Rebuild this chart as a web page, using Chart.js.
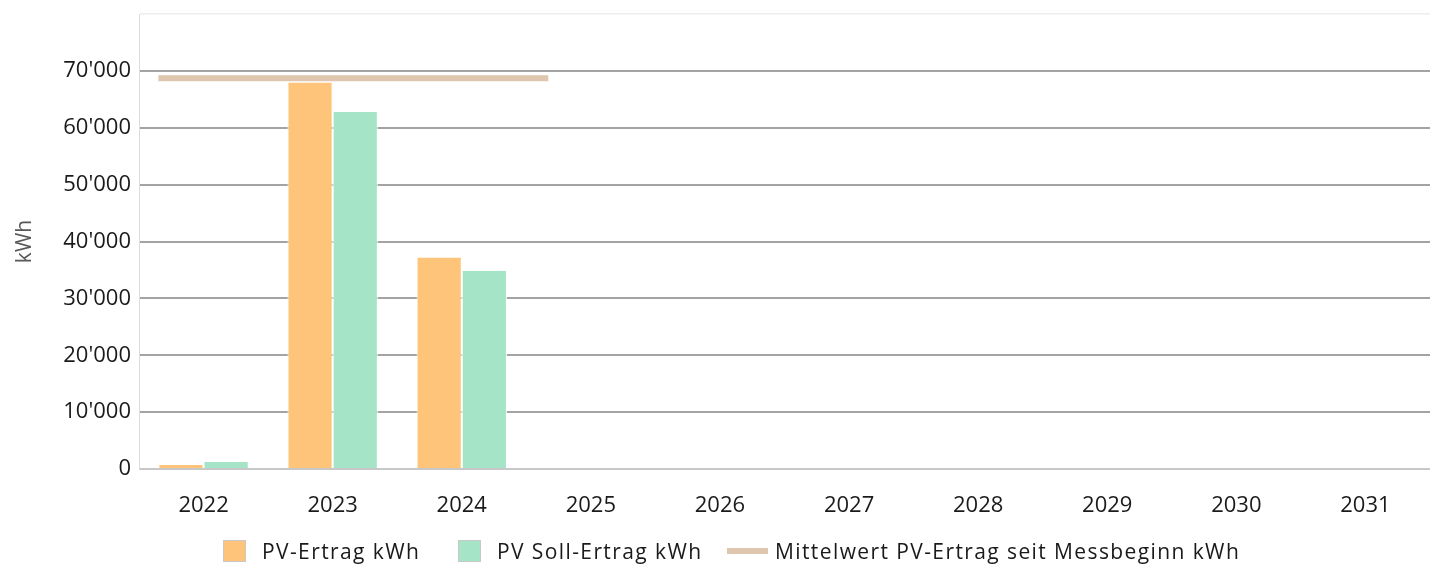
<!DOCTYPE html>
<html lang="de">
<head>
<meta charset="utf-8">
<script src="https://cdn.jsdelivr.net/npm/chart.js@4/dist/chart.umd.min.js"></script>
<style>
  html, body { margin: 0; padding: 0; background: #fff; }
  #wrap { position: relative; width: 1431px; height: 565px; }
  #legend { position: absolute; left: 0; top: 538px; width: 1431px; height: 26px;
    font-family: 'Open Sans', sans-serif; font-size: 21px; letter-spacing: 1.4px; color: #1a1a1a; }
  #legend .item { position: absolute; top: 0; display: flex; align-items: center; height: 26px; white-space: nowrap; }
  #legend .box { width: 23px; height: 22px; margin-right: 16px; box-sizing: border-box; border: 1px solid #c9c9c9; }
  #legend .ln { width: 41px; height: 6px; margin-right: 7px; }
</style>
</head>
<body>
<div id="wrap">
  <canvas id="c" width="1431" height="565"></canvas>
  <div id="legend"></div>
</div>
<script>
  // Jahre und Werte (kWh)
  const years = ['2022', '2023', '2024', '2025', '2026', '2027', '2028', '2029', '2030', '2031'];
  const pvErtrag = [880, 68100, 37300, null, null, null, null, null, null, null];
  const pvSoll = [1400, 62950, 35000, null, null, null, null, null, null, null];
  const mittelwert = 68700;
  // Mittelwert-Linie: Anfang/Ende in Kategorie-Einheiten (0 = 2022)
  const meanFrom = -0.35;
  const meanTo = 2.67;
  const yTicks = [0, 10000, 20000, 30000, 40000, 50000, 60000, 70000, 80000];

  const colors = {
    ertrag: '#fec47a',
    soll: '#a6e4c8',
    mean: '#dfc6ae',
    text: '#1a1a1a',
    title: '#595959',
    grid: '#a3a3a3',
  };

  const fmt = (v) => String(v).replace(/\B(?=(\d{3})+(?!\d))/g, "'");

  new Chart(document.getElementById('c'), {
    type: 'bar',
    data: {
      labels: years,
      datasets: [
        {
          type: 'line',
          label: 'Mittelwert PV-Ertrag seit Messbeginn kWh',
          data: [{ x: meanFrom, y: mittelwert }, { x: meanTo, y: mittelwert }],
          xAxisID: 'x2',
          borderColor: colors.mean,
          borderWidth: 6,
          pointRadius: 0,
          order: 0,
        },
        {
          label: 'PV-Ertrag kWh',
          data: pvErtrag,
          backgroundColor: colors.ertrag,
          borderColor: '#fff',
          borderWidth: 1,
          order: 1,
        },
        {
          label: 'PV Soll-Ertrag kWh',
          data: pvSoll,
          backgroundColor: colors.soll,
          borderColor: '#fff',
          borderWidth: 1,
          order: 1,
        },
      ],
    },
    options: {
      responsive: false,
      animation: false,
      layout: { padding: { top: 14, right: 1, bottom: 40, left: 0 } },
      datasets: { bar: { categoryPercentage: 1.4, barPercentage: 1.0 } },
      plugins: { legend: { display: false }, tooltip: { enabled: false } },
      scales: {
        x: {
          grid: { display: false, drawTicks: false },
          border: { display: false },
          ticks: { color: colors.text, padding: 24, font: { family: 'Open Sans', size: 22 } },
          afterFit: (axis) => { axis.height = 56; axis.paddingLeft = 0; axis.paddingRight = 0; },
        },
        x2: { type: 'linear', min: -0.5, max: 9.5, offset: false, display: false, grid: { offset: false } },
        y: {
          min: 0,
          max: 80000,
          afterBuildTicks: (axis) => { axis.ticks = yTicks.map((v) => ({ value: v })); },
          afterFit: (axis) => { axis.width = 139; axis.paddingTop = 0; axis.paddingBottom = 0; },
          border: { display: true, color: '#dcdcdc', width: 1 },
          grid: {
            drawTicks: false,
            color: (ctx) => (ctx.tick.value === 0 ? '#c8c8c8' : ctx.tick.value === 80000 ? '#eeeeee' : colors.grid),
            lineWidth: (ctx) => (ctx.tick.value === 80000 ? 1.5 : 2),
          },
          ticks: {
            color: colors.text,
            padding: 8,
            font: { family: 'Open Sans', size: 22 },
            callback: (v) => (v === 80000 ? '' : fmt(v)),
          },
          title: {
            display: true,
            text: 'kWh',
            color: colors.title,
            padding: { top: 12, bottom: 0 },
            font: { family: 'Open Sans', size: 21 },
          },
        },
      },
    },
  });

  // Legende als HTML
  const legendItems = [
    { text: 'PV-Ertrag kWh', color: colors.ertrag, kind: 'box', left: 223 },
    { text: 'PV Soll-Ertrag kWh', color: colors.soll, kind: 'box', left: 458 },
    { text: 'Mittelwert PV-Ertrag seit Messbeginn kWh', color: colors.mean, kind: 'ln', left: 727 },
  ];
  const legend = document.getElementById('legend');
  legendItems.forEach((it) => {
    const d = document.createElement('div');
    d.className = 'item';
    d.style.left = it.left + 'px';
    const sw = document.createElement('span');
    sw.className = it.kind;
    sw.style.background = it.color;
    const t = document.createElement('span');
    t.textContent = it.text;
    d.appendChild(sw);
    d.appendChild(t);
    legend.appendChild(d);
  });
</script>
</body>
</html>
